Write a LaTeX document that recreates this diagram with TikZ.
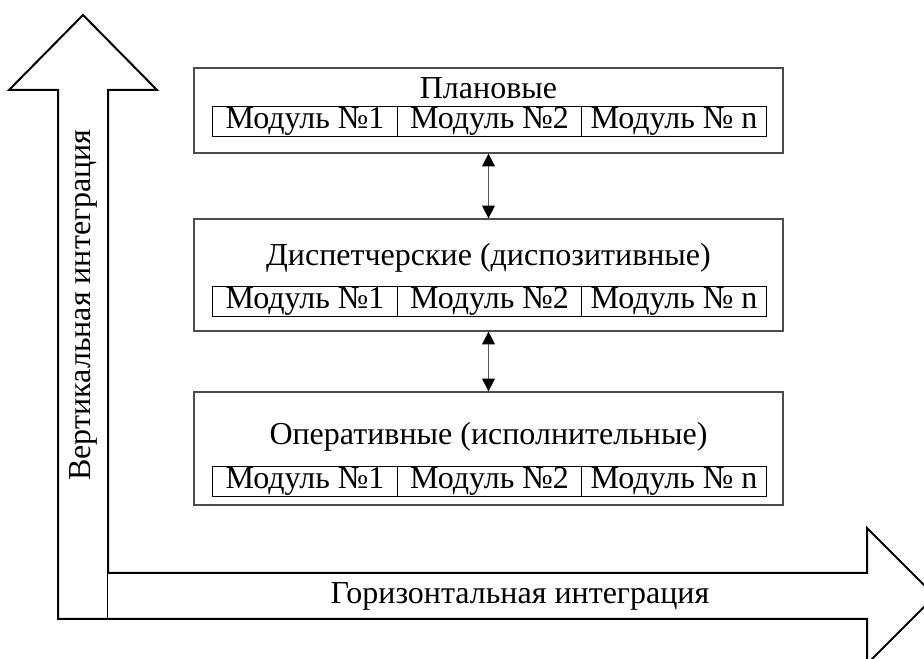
\documentclass[tikz,border=0pt]{standalone}
\usepackage{fontspec}
\setmainfont{Liberation Serif}
\usetikzlibrary{arrows.meta}

\begin{document}
\begin{tikzpicture}[x=0.75pt,y=0.75pt,
  every node/.style={font=\fontsize{24}{28}\selectfont,inner sep=0pt},
  bigarrow/.style={draw=black,line width=1.5pt,fill=white,line join=miter},
  level/.style={draw=black!70,line width=0.9pt,minimum width=441.75pt},
  module/.style={draw=black,line width=0.6pt,minimum width=138.4pt,minimum height=22.5pt},
  link/.style={draw=black!65,line width=0.8pt,{Triangle[width=9.5pt,length=9.5pt,black]}-{Triangle[width=9.5pt,length=9.5pt,black]}}]
  \useasboundingbox (0,0) rectangle (924,659);
  % integration arrows
  \draw[bigarrow] (83,644) -- (157,569) -- (108,569) -- (108,40) -- (58,40) -- (58,569) -- (9,569) -- cycle;
  \draw[bigarrow] (108,86) -- (867,86) -- (867,131) -- (935,63) -- (867,-5) -- (867,40) -- (108,40);
  \node[rotate=90] (vlabel) at (83,354) {Вертикальная интеграция};
  \node (hlabel) at (520,63) {Горизонтальная интеграция};
  % levels
  \node[level,minimum height=63.75pt] (plan) at (488.5,548.5) {};
  \node[level,minimum height=84pt] (disp) at (488.5,384) {};
  \node[level,minimum height=84.75pt] (oper) at (488.5,210.5) {};
  \node (plantitle) at (488.5,571) {Плановые};
  \node (disptitle) at (488.5,401) {Диспетчерские (диспозитивные)};
  \node (opertitle) at (488.5,222) {Оперативные (исполнительные)};
  \foreach \lv/\yy in {plan/538,disp/358,oper/178}{
    \node[module] (\lv1) at (305,\yy) {Модуль №1};
    \node[module] (\lv2) at (489.5,\yy) {Модуль №2};
    \node[module] (\lv3) at (674,\yy) {Модуль № n};
  }
  \draw[link] (plan.south) -- (disp.north);
  \draw[link] (disp.south) -- (oper.north);
\end{tikzpicture}
\end{document}
